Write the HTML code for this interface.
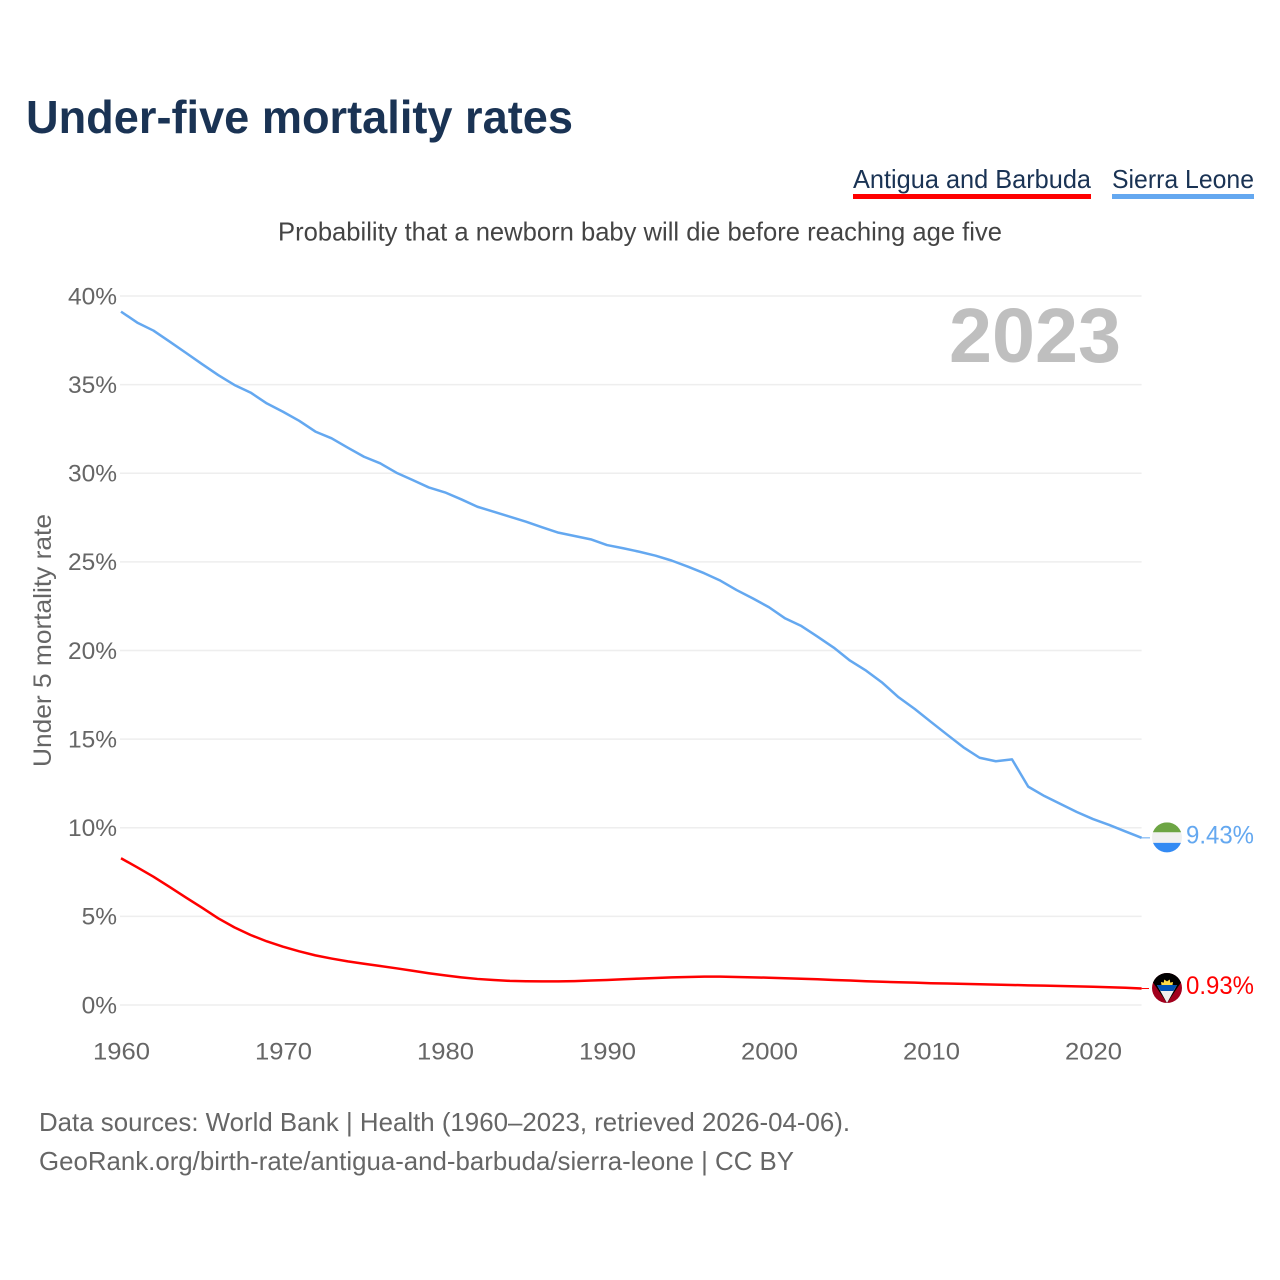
<!DOCTYPE html>
<html lang="en">
<head>
<meta charset="utf-8">
<title>Under-five mortality rates</title>
<style>
  html, body { margin: 0; padding: 0; background: #fff; }
  svg { display: block; font-family: "Liberation Sans", sans-serif; }
  .tick { font-size: 24.5px; fill: #666; }
</style>
</head>
<body>
<svg id="chart" width="1280" height="1280" viewBox="0 0 1280 1280" xmlns="http://www.w3.org/2000/svg">
  <rect x="0" y="0" width="1280" height="1280" fill="#fff"/>
  <text x="26" y="133" font-size="46" font-weight="700" fill="#1a3354" textLength="547" lengthAdjust="spacingAndGlyphs">Under-five mortality rates</text>

  <g>
    <text x="853" y="188" font-size="26" fill="#1a3354" textLength="238" lengthAdjust="spacingAndGlyphs">Antigua and Barbuda</text>
    <rect x="853" y="194" width="238" height="5" fill="#ff0000"/>
  </g>
  <g>
    <text x="1112" y="188" font-size="26" fill="#1a3354" textLength="142" lengthAdjust="spacingAndGlyphs">Sierra Leone</text>
    <rect x="1112" y="194" width="142" height="5" fill="#64a8f0"/>
  </g>

  <text x="278" y="240.5" font-size="26" fill="#444" textLength="724" lengthAdjust="spacingAndGlyphs">Probability that a newborn baby will die before reaching age five</text>

  <text transform="translate(51,767) rotate(-90)" x="0" y="0" font-size="25" fill="#666" textLength="253" lengthAdjust="spacingAndGlyphs">Under 5 mortality rate</text>

  <g id="grid"></g>
  <g id="yticks"></g>
  <g id="xticks"></g>

  <text x="949" y="362" font-size="77" font-weight="700" fill="#bfbfbf" textLength="172" lengthAdjust="spacingAndGlyphs">2023</text>

  <g id="series"></g>

  <defs>
    <clipPath id="flag-clip"><circle cx="0" cy="0" r="15"/></clipPath>
  </defs>

  <g id="flag-sierra-leone">
    <g clip-path="url(#flag-clip)">
      <rect x="-15" y="-15" width="30" height="10" fill="#6da544"/>
      <rect x="-15" y="-5" width="30" height="10.5" fill="#f0f0f0"/>
      <rect x="-15" y="5.5" width="30" height="10" fill="#338af3"/>
    </g>
  </g>
  <g id="flag-antigua">
    <g clip-path="url(#flag-clip)">
      <rect x="-15" y="-15" width="30" height="30" fill="#a2001d"/>
      <polygon points="-15,-15 15,-15 15,-7 0,15 -15,-7" fill="#000"/>
      <polygon points="-10,-3 10,-3 0,15" fill="#f0f0f0"/>
      <polygon points="-10,-3 10,-3 6.4,3 -6.4,3" fill="#0052b4"/>
      <polygon points="-5.5,-3 -6,-6 -3.2,-5.4 -2.8,-8.5 0,-6.6 2.8,-8.5 3.2,-5.4 6,-6 5.5,-3" fill="#ffda44"/>
    </g>
  </g>

  <text x="39" y="1131" font-size="26" fill="#666" textLength="811" lengthAdjust="spacingAndGlyphs">Data sources: World Bank | Health (1960–2023, retrieved 2026-04-06).</text>
  <text x="39" y="1170" font-size="26" fill="#666" textLength="755" lengthAdjust="spacingAndGlyphs">GeoRank.org/birth-rate/antigua-and-barbuda/sierra-leone | CC BY</text>
</svg>

<script>
const years = [1960,1961,1962,1963,1964,1965,1966,1967,1968,1969,
  1970,1971,1972,1973,1974,1975,1976,1977,1978,1979,
  1980,1981,1982,1983,1984,1985,1986,1987,1988,1989,
  1990,1991,1992,1993,1994,1995,1996,1997,1998,1999,
  2000,2001,2002,2003,2004,2005,2006,2007,2008,2009,
  2010,2011,2012,2013,2014,2015,2016,2017,2018,2019,
  2020,2021,2022,2023];
const sierraLeone = [39.12,38.5,38.05,37.43,36.8,36.16,35.54,34.98,34.55,33.94,
  33.47,32.96,32.35,31.97,31.44,30.93,30.56,30.03,29.62,29.2,
  28.92,28.53,28.11,27.83,27.55,27.27,26.95,26.65,26.46,26.27,
  25.95,25.77,25.57,25.35,25.07,24.73,24.36,23.94,23.41,22.94,
  22.44,21.81,21.38,20.78,20.16,19.43,18.86,18.18,17.36,16.7,
  15.97,15.25,14.54,13.95,13.75,13.86,12.32,11.79,11.34,10.89,
  10.49,10.16,9.79,9.43];
const antigua = [8.28,7.77,7.24,6.66,6.07,5.49,4.89,4.38,3.95,3.59,
  3.29,3.03,2.8,2.62,2.46,2.33,2.2,2.07,1.93,1.79,
  1.67,1.56,1.47,1.41,1.36,1.34,1.33,1.33,1.35,1.38,
  1.41,1.45,1.49,1.52,1.56,1.58,1.6,1.6,1.58,1.56,
  1.54,1.51,1.48,1.45,1.41,1.38,1.34,1.31,1.28,1.26,
  1.23,1.21,1.19,1.17,1.15,1.13,1.11,1.09,1.07,1.05,
  1.03,1.0,0.97,0.93];
const yTickValues = [0,5,10,15,20,25,30,35,40];
const xTickValues = [1960,1970,1980,1990,2000,2010,2020];

const NS = 'http://www.w3.org/2000/svg';
function xScale(year) { return 121 + (year - 1960) * 16.2; }
function yScale(value) { return 1005 - value * 17.725; }

const grid = document.getElementById('grid');
const yticks = document.getElementById('yticks');
const xticks = document.getElementById('xticks');
const seriesLayer = document.getElementById('series');
const chart = document.getElementById('chart');

yTickValues.forEach(function (t) {
  const line = document.createElementNS(NS, 'line');
  
  
  line.setAttribute('x1', 120);
  line.setAttribute('x2', xScale(2023));
  line.setAttribute('y1', yScale(t));
  line.setAttribute('y2', yScale(t));
  line.setAttribute('stroke', '#eeeeee');
  line.setAttribute('stroke-width', '1.5');
  grid.appendChild(line);

  const label = document.createElementNS(NS, 'text');
  
  
  label.setAttribute('class', 'tick');
  label.setAttribute('x', 117);
  label.setAttribute('y', yScale(t) + 8.3);
  label.setAttribute('text-anchor', 'end');
  label.textContent = t + '%';
  yticks.appendChild(label);
});

xTickValues.forEach(function (t) {
  const label = document.createElementNS(NS, 'text');
  
  
  label.setAttribute('class', 'tick');
  label.setAttribute('x', xScale(t) + 0.5);
  label.setAttribute('y', 1059.5);
  label.setAttribute('text-anchor', 'middle');
  label.setAttribute('textLength', '57');
  label.setAttribute('lengthAdjust', 'spacingAndGlyphs');
  label.textContent = t;
  xticks.appendChild(label);
});

function pathFor(values) {
  return values.map(function (v, i) {
    return (i ? 'L' : 'M') + xScale(years[i]).toFixed(2) + ' ' + yScale(v).toFixed(2);
  }).join(' ');
}

function lastOf(values) { return values[values.length - 1]; }

const sierraLine = document.createElementNS(NS, 'path');


sierraLine.setAttribute('d', pathFor(sierraLeone));
sierraLine.setAttribute('fill', 'none');
sierraLine.setAttribute('stroke', '#64a8f0');
sierraLine.setAttribute('stroke-width', '2.5');
sierraLine.setAttribute('stroke-linejoin', 'round');
seriesLayer.appendChild(sierraLine);

const antiguaLine = document.createElementNS(NS, 'path');


antiguaLine.setAttribute('d', pathFor(antigua));
antiguaLine.setAttribute('fill', 'none');
antiguaLine.setAttribute('stroke', '#ff0000');
antiguaLine.setAttribute('stroke-width', '2.5');
antiguaLine.setAttribute('stroke-linejoin', 'round');
seriesLayer.appendChild(antiguaLine);

const sierraLeader = document.createElementNS(NS, 'line');


sierraLeader.setAttribute('x1', xScale(2023));
sierraLeader.setAttribute('x2', 1150);
sierraLeader.setAttribute('y1', yScale(lastOf(sierraLeone)));
sierraLeader.setAttribute('y2', yScale(lastOf(sierraLeone)));
sierraLeader.setAttribute('stroke', '#64a8f0');
sierraLeader.setAttribute('stroke-width', '1');
seriesLayer.appendChild(sierraLeader);

const antiguaLeader = document.createElementNS(NS, 'line');


antiguaLeader.setAttribute('x1', xScale(2023));
antiguaLeader.setAttribute('x2', 1149);
antiguaLeader.setAttribute('y1', yScale(lastOf(antigua)));
antiguaLeader.setAttribute('y2', yScale(lastOf(antigua)));
antiguaLeader.setAttribute('stroke', '#ff0000');
antiguaLeader.setAttribute('stroke-width', '1');
seriesLayer.appendChild(antiguaLeader);

document.getElementById('flag-sierra-leone').setAttribute('transform', 'translate(1167,' + (yScale(lastOf(sierraLeone)) - 0.5) + ')');
document.getElementById('flag-antigua').setAttribute('transform', 'translate(1167,' + (yScale(lastOf(antigua)) - 0.5) + ')');

const sierraValue = document.createElementNS(NS, 'text');


sierraValue.setAttribute('x', 1186);
sierraValue.setAttribute('y', yScale(lastOf(sierraLeone)) + 5.5);
sierraValue.setAttribute('font-size', '25');
sierraValue.setAttribute('fill', '#64a8f0');
sierraValue.setAttribute('textLength', '68');
sierraValue.setAttribute('lengthAdjust', 'spacingAndGlyphs');
sierraValue.textContent = lastOf(sierraLeone).toFixed(2) + '%';
chart.appendChild(sierraValue);

const antiguaValue = document.createElementNS(NS, 'text');


antiguaValue.setAttribute('x', 1186);
antiguaValue.setAttribute('y', yScale(lastOf(antigua)) + 5.5);
antiguaValue.setAttribute('font-size', '25');
antiguaValue.setAttribute('fill', '#ff0000');
antiguaValue.setAttribute('textLength', '68');
antiguaValue.setAttribute('lengthAdjust', 'spacingAndGlyphs');
antiguaValue.textContent = lastOf(antigua).toFixed(2) + '%';
chart.appendChild(antiguaValue);
</script>
</body>
</html>
